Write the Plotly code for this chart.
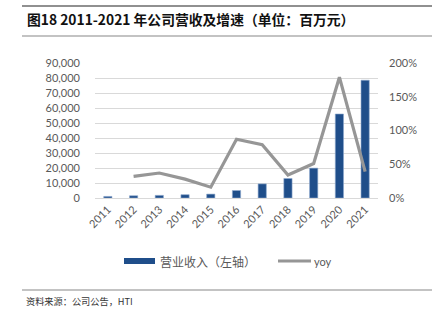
import plotly.graph_objects as go

# Annual revenue (million yuan) and year-over-year growth (%)
years = ["2011", "2012", "2013", "2014", "2015", "2016", "2017", "2018", "2019", "2020", "2021"]
revenue = [1050, 1500, 1750, 2200, 2600, 5000, 9400, 13000, 19900, 56000, 78500]
yoy = [None, 32, 37, 28, 16, 87, 79, 34, 51, 179, 39]

left_ticks = list(range(0, 90001, 10000))
right_ticks = [0, 50, 100, 150, 200]

BAR_COLOR = "#1F4E8A"
LINE_COLOR = "#969696"
TICK_FONT = dict(family="Lato, 'Noto Sans', sans-serif", size=11, color="#595959")
CJK = "'Noto Sans CJK SC', sans-serif"

fig = go.Figure()
fig.add_trace(go.Bar(
    x=years, y=revenue, name="营业收入（左轴）",
    marker=dict(color=BAR_COLOR, line=dict(color="#8FA9CF", width=0.6)),
    width=0.32, yaxis="y", showlegend=False,
))
fig.add_trace(go.Scatter(
    x=years, y=yoy, name="yoy", mode="lines",
    line=dict(color=LINE_COLOR, width=3.2), yaxis="y2",
    connectgaps=False, showlegend=False,
))

# Plot area: x 95..378 px, y 63..198 px
L, R, T, B = 95, 378, 63, 198
W, H = 439, 322
pw, ph = R - L, B - T


def px(x):
    return (x - L) / pw


def py(y):
    return (B - y) / ph


fig.update_layout(
    width=W, height=H,
    margin=dict(l=L, r=W - R, t=T, b=H - B, pad=0),
    paper_bgcolor="white", plot_bgcolor="white",
    bargap=0.5,
    xaxis=dict(
        type="category", tickangle=-45, tickfont=TICK_FONT,
        showgrid=False, showline=True, linecolor="#D9D9D9", linewidth=1,
        ticks="", ticklen=0,
    ),
    yaxis=dict(
        range=[0, 90000], tickvals=left_ticks,
        ticktext=[f"{v:,}" for v in left_ticks],
        tickfont=TICK_FONT, showgrid=True, gridcolor="#D9D9D9", gridwidth=1,
        zeroline=False, showline=False, ticks="", ticklabelstandoff=14,
    ),
    yaxis2=dict(
        range=[0, 200], tickvals=right_ticks,
        ticktext=[f"{v}%" for v in right_ticks],
        tickfont=TICK_FONT, overlaying="y", side="right",
        showgrid=False, zeroline=False, showline=False, ticks="",
        ticklabelstandoff=10,
    ),
    showlegend=False,
)

shapes = []
annotations = []

# Header rules and title
shapes.append(dict(type="line", xref="paper", yref="paper",
                   x0=px(22), x1=px(432), y0=py(6), y1=py(6),
                   line=dict(color="#222222", width=1.2)))
shapes.append(dict(type="line", xref="paper", yref="paper",
                   x0=px(22), x1=px(432), y0=py(36), y1=py(36),
                   line=dict(color="#888888", width=1.2)))
annotations.append(dict(
    xref="paper", yref="paper", x=px(25), y=py(19), xanchor="left", yanchor="middle",
    text="<b>图18 2011-2021 年公司营收及增速（单位：百万元）</b>", showarrow=False,
    font=dict(family=CJK, size=13.8, color="#111111"),
))

# Legend
shapes.append(dict(type="rect", xref="paper", yref="paper",
                   x0=px(124), x1=px(155), y0=py(258), y1=py(264),
                   fillcolor=BAR_COLOR, line=dict(width=0)))
annotations.append(dict(
    xref="paper", yref="paper", x=px(158), y=py(261), xanchor="left", yanchor="middle",
    text="营业收入（左轴）", showarrow=False,
    font=dict(family=CJK, size=12, color="#595959"),
))
shapes.append(dict(type="line", xref="paper", yref="paper",
                   x0=px(278), x1=px(311), y0=py(261), y1=py(261),
                   line=dict(color=LINE_COLOR, width=3.2)))
annotations.append(dict(
    xref="paper", yref="paper", x=px(312), y=py(261), xanchor="left", yanchor="middle",
    text="yoy", showarrow=False, font=TICK_FONT,
))

# Footer rule and source
shapes.append(dict(type="line", xref="paper", yref="paper",
                   x0=px(22), x1=px(432), y0=py(290), y1=py(290),
                   line=dict(color="#888888", width=1.2)))
annotations.append(dict(
    xref="paper", yref="paper", x=px(24), y=py(301), xanchor="left", yanchor="middle",
    text="资料来源：公司公告，HTI", showarrow=False,
    font=dict(family=CJK, size=9.2, color="#333333"),
))

fig.update_layout(shapes=shapes, annotations=annotations)
fig.write_html("out.html")
